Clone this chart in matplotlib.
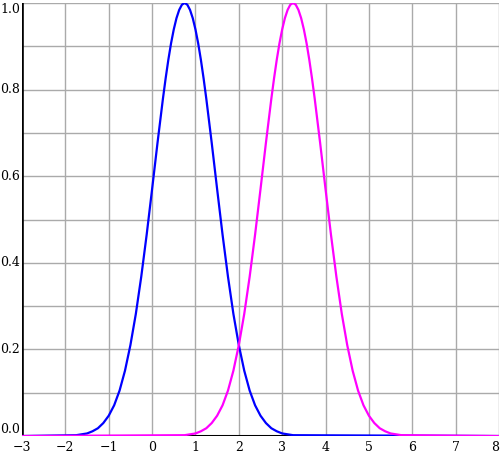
import numpy as np
import matplotlib
matplotlib.use('Agg')
import matplotlib.pyplot as plt

# values (finer samples around the peaks)
blue_x = [-1.75, -1.625, -1.5, -1.375, -1.25, -1.125, -1.0, -0.875, -0.75, -0.625,
          -0.5, -0.375, -0.25, -0.125, 0.0, 0.125, 0.25, 0.3125, 0.375, 0.4375,
          0.5, 0.5625, 0.625, 0.6875, 0.75, 0.8125, 0.875, 0.9375, 1.0, 1.0625,
          1.125, 1.1875, 1.25, 1.375, 1.5, 1.625, 1.75, 1.875, 2.0, 2.125,
          2.25, 2.375, 2.5, 2.625, 2.75, 2.875, 3.0, 3.125, 3.25]
blue_y = [0.002, 0.004, 0.006, 0.011, 0.018, 0.030, 0.047, 0.071, 0.105, 0.151,
          0.210, 0.282, 0.368, 0.465, 0.570, 0.677, 0.779, 0.826, 0.869, 0.907,
          0.939, 0.965, 0.984, 0.996, 1.000, 0.996, 0.984, 0.965, 0.939, 0.907,
          0.869, 0.826, 0.779, 0.677, 0.570, 0.465, 0.368, 0.282, 0.210, 0.151,
          0.105, 0.071, 0.047, 0.030, 0.018, 0.011, 0.006, 0.004, 0.002]
magenta_x = [0.75, 0.875, 1.0, 1.125, 1.25, 1.375, 1.5, 1.625, 1.75, 1.875,
             2.0, 2.125, 2.25, 2.375, 2.5, 2.625, 2.75, 2.8125, 2.875, 2.9375,
             3.0, 3.0625, 3.125, 3.1875, 3.25, 3.3125, 3.375, 3.4375, 3.5, 3.5625,
             3.625, 3.6875, 3.75, 3.875, 4.0, 4.125, 4.25, 4.375, 4.5, 4.625,
             4.75, 4.875, 5.0, 5.125, 5.25, 5.375, 5.5, 5.625, 5.75]
magenta_y = [0.002, 0.004, 0.006, 0.011, 0.018, 0.030, 0.047, 0.071, 0.105, 0.151,
             0.210, 0.282, 0.368, 0.465, 0.570, 0.677, 0.779, 0.826, 0.869, 0.907,
             0.939, 0.965, 0.984, 0.996, 1.000, 0.996, 0.984, 0.965, 0.939, 0.907,
             0.869, 0.826, 0.779, 0.677, 0.570, 0.465, 0.368, 0.282, 0.210, 0.151,
             0.105, 0.071, 0.047, 0.030, 0.018, 0.011, 0.006, 0.004, 0.002]

xmin, xmax = -3, 8
ymin, ymax = 0, 1

x_ticks = [-3, -2, -1, 0, 1, 2, 3, 4, 5, 6, 7, 8]
y_ticks = [0.0, 0.2, 0.4, 0.6, 0.8, 1.0]

plt.rcParams['font.family'] = 'DejaVu Serif'

fig = plt.figure(figsize=(5, 4.59), dpi=100)
ax = fig.add_axes([0.044, 0.05, 0.954, 0.9435])

# grid lines
for gx in range(xmin, xmax + 1):
    ax.axvline(gx, color='#aaaaaa', lw=1, zorder=1)
for gy in np.arange(0, 1.01, 0.1):
    ax.axhline(gy, color='#aaaaaa', lw=1, zorder=1)

# axes lines
ax.plot([xmin, xmax], [0, 0], color='black', lw=2.2, zorder=2, solid_capstyle='butt')
ax.plot([xmin, xmin], [0, 1], color='black', lw=2.6, zorder=2, solid_capstyle='butt')

bx = np.concatenate([[xmin], blue_x, [xmax]])
by = np.concatenate([[0], blue_y, [0]])
mx = np.concatenate([[xmin], magenta_x, [xmax]])
my = np.concatenate([[0], magenta_y, [0]])
ax.plot(bx, by, color='#0000ff', lw=1.6, zorder=3)
ax.plot(mx, my, color='#ff00ff', lw=1.6, zorder=4)

ax.set_xlim(xmin, xmax)
ax.set_ylim(ymin, ymax)
ax.axis('off')

# tick labels
for t in x_ticks:
    ha = 'right' if t == xmax else 'center'
    ax.text(t, -0.012, '\u2212%d' % -t if t < 0 else '%d' % t,
            ha=ha, va='top', fontsize=9, clip_on=False)
for t in y_ticks:
    va = 'center'
    if t == 1.0:
        va = 'top'
    elif t == 0.0:
        va = 'bottom'
    ax.text(-3.05, t, '%.1f' % t, ha='right', va=va, fontsize=9, clip_on=False)

plt.savefig('out.png', dpi=100)
